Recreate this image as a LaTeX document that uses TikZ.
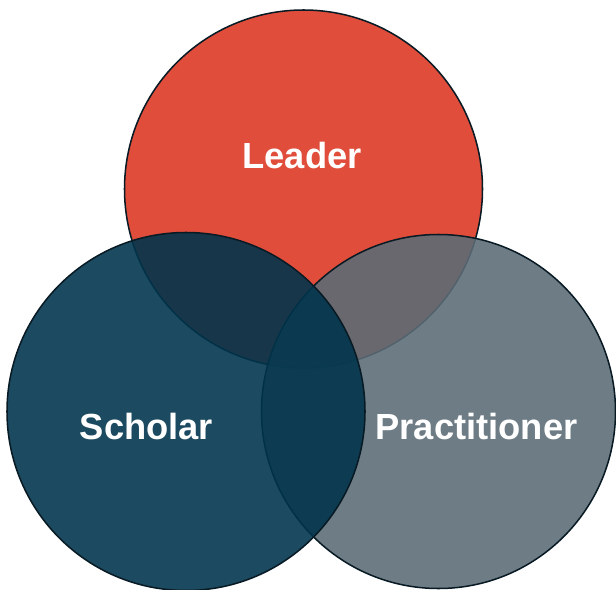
\documentclass[tikz,border=0pt]{standalone}
\usepackage{fontspec}
\setmainfont{Liberation Sans}
\usepackage{xcolor}
\definecolor{leadred}{RGB}{224,77,59}
\definecolor{scholblue}{RGB}{0,52,76}
\definecolor{practgray}{RGB}{92,108,118}
\definecolor{rimnavy}{RGB}{8,26,36}
\tikzset{
	venn/.style={draw=rimnavy,line width=1.3pt},
	vennlabel/.style={text=white,font=\fontsize{31}{36}\selectfont\bfseries,anchor=base,inner sep=0pt}
}

\begin{document}
\begin{tikzpicture}[x=0.03cm,y=-0.03cm]
	\useasboundingbox (0,0) rectangle (616,590);
	\coordinate (L) at (303.5,189);
	\coordinate (S) at (186,411.5);
	\coordinate (P) at (438.5,411.5);

	\draw[venn,fill=leadred] (L) circle (179);
	\draw[venn,fill=practgray,fill opacity=0.89] (P) circle (177);
	\draw[venn,fill=scholblue,fill opacity=0.89] (S) circle (179);

	\node[vennlabel] (leader) at (302,168.5) {Leader};
	\node[vennlabel] (scholar) at (146.5,439) {Scholar};
	\node[vennlabel] (practitioner) at (476.5,439) {Practitioner};
\end{tikzpicture}
\end{document}
